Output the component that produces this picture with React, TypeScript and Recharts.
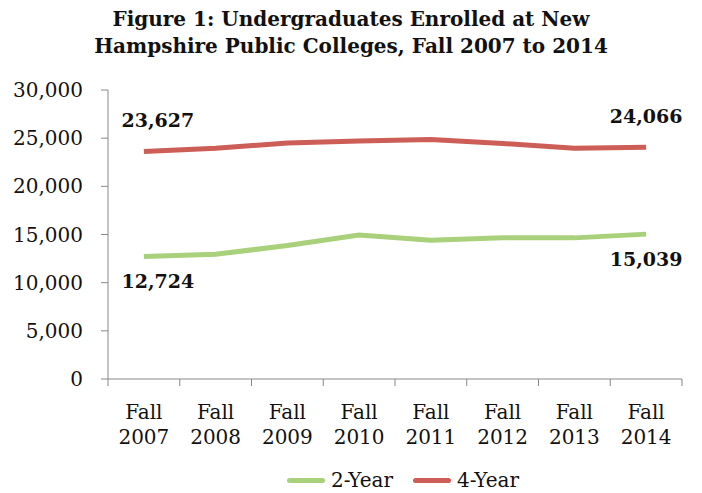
import { LabelList, Legend, Line, LineChart, XAxis, YAxis } from "recharts";

const years = ["2007", "2008", "2009", "2010", "2011", "2012", "2013", "2014"];
const twoYear = [12724, 12950, 13850, 14950, 14400, 14650, 14650, 15039];
const fourYear = [23627, 23950, 24500, 24700, 24850, 24450, 23950, 24066];
const yTicks = [0, 5000, 10000, 15000, 20000, 25000, 30000];
const boundaryTicks = [0, 1, 2, 3, 4, 5, 6, 7, 8];

const GREEN = "#a9d07b";
const RED = "#cd5d57";
const AXIS = "#888888";
const SERIF = "'DejaVu Serif', serif";

const data = years.map((year, i) => ({
  pos: i + 0.5,
  year,
  twoYear: twoYear[i],
  fourYear: fourYear[i],
}));

const fmt = (v: number) => v.toLocaleString("en-US");

function XTick(props: any) {
  const { x, y, payload } = props;
  const i = payload.value as number;
  if (i >= years.length) return null;
  // label sits in the middle of the band that starts at this boundary tick
  const band = 574 / years.length;
  const cx = x + band / 2;
  return (
    <text x={cx} y={y} textAnchor="middle" fill="#111" fontFamily={SERIF} fontSize={20}>
      <tspan x={cx} dy={31}>Fall</tspan>
      <tspan x={cx} dy={25}>{years[i]}</tspan>
    </text>
  );
}

function endLabel(dx: number, dy: number) {
  return (props: any) => {
    const { x, y, value, index } = props;
    if (index !== 0 && index !== years.length - 1) return null;
    const shift = index === 0 ? dx : 0;
    return (
      <text x={x + shift} y={y + dy} textAnchor="middle" fontFamily={SERIF} fontWeight="bold" fontSize={19} fill="#111">
        {fmt(value)}
      </text>
    );
  };
}

function LegendContent() {
  const items = [
    { label: "2-Year", color: GREEN },
    { label: "4-Year", color: RED },
  ];
  return (
    <div
      style={{
        display: "flex",
        justifyContent: "center",
        gap: 20,
        paddingLeft: 124,
        fontFamily: SERIF,
        fontSize: 20,
        lineHeight: "26px",
        color: "#111",
      }}
    >
      {items.map((it) => (
        <div key={it.label} style={{ display: "flex", alignItems: "center", gap: 6 }}>
          <span style={{ display: "inline-block", width: 38, height: 5, borderRadius: 3, background: it.color }} />
          <span>{it.label}</span>
        </div>
      ))}
    </div>
  );
}

export default function App() {
  return (
    <div style={{ position: "absolute", left: 0, top: 0, width: 702, height: 493, background: "#fff" }}>
      <div
        style={{
          position: "absolute",
          top: 6,
          left: 0,
          width: 702,
          textAlign: "center",
          fontFamily: SERIF,
          fontWeight: "bold",
          fontSize: 20,
          lineHeight: "27px",
          color: "#111",
        }}
      >
        Figure 1: Undergraduates Enrolled at New
        <br />
        Hampshire Public Colleges, Fall 2007 to 2014
      </div>
      <div style={{ position: "absolute", left: 0, top: 0 }}>
        <LineChart width={702} height={493} data={data} margin={{ top: 90, right: 20, bottom: 0, left: 0 }}>
          <XAxis
            dataKey="pos"
            type="number"
            domain={[0, 8]}
            ticks={boundaryTicks}
            interval={0}
            height={88}
            stroke={AXIS}
            tickSize={7}
            tick={<XTick />}
          />
          <YAxis
            domain={[0, 30000]}
            ticks={yTicks}
            width={108}
            stroke={AXIS}
            tickSize={7}
            tickMargin={18}
            tickFormatter={fmt}
            tick={{ fill: "#111", fontFamily: SERIF, fontSize: 20 }}
          />
          <Legend verticalAlign="bottom" height={26} content={<LegendContent />} />
          <Line dataKey="twoYear" name="2-Year" stroke={GREEN} strokeWidth={5} dot={false} isAnimationActive={false}>
            <LabelList dataKey="twoYear" content={endLabel(14, 32)} />
          </Line>
          <Line dataKey="fourYear" name="4-Year" stroke={RED} strokeWidth={5} dot={false} isAnimationActive={false}>
            <LabelList dataKey="fourYear" content={endLabel(14, -24)} />
          </Line>
        </LineChart>
      </div>
    </div>
  );
}
